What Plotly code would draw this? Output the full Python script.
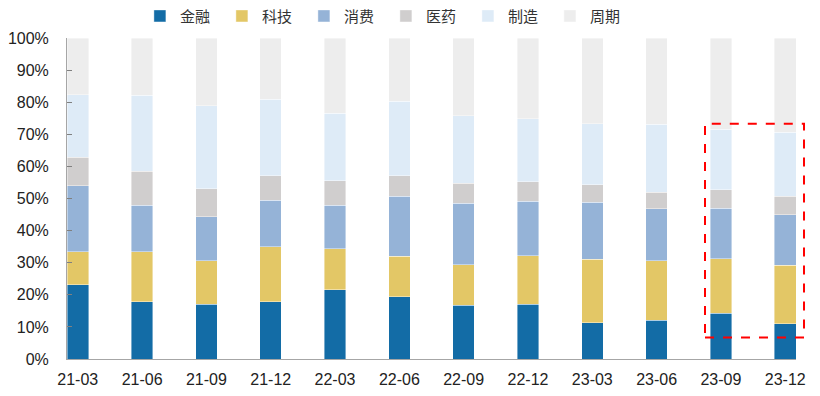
import plotly.graph_objects as go

categories = ["21-03", "21-06", "21-09", "21-12", "22-03", "22-06",
              "22-09", "22-12", "23-03", "23-06", "23-09", "23-12"]
finance = [23.1, 17.9, 17.0, 17.8, 21.5, 19.4, 16.8, 17.0, 11.3, 12.0, 14.2, 11.0]
tech = [10.3, 15.5, 13.6, 17.2, 12.9, 12.6, 12.6, 15.1, 19.8, 18.6, 17.1, 18.2]
consumer = [20.6, 14.5, 13.7, 14.4, 13.5, 18.7, 19.1, 17.1, 17.7, 16.2, 15.7, 15.7]
pharma = [8.8, 10.6, 8.8, 7.7, 7.6, 6.4, 6.2, 6.0, 5.5, 5.1, 5.8, 5.8]
manufacturing = [19.5, 23.6, 25.8, 23.8, 21.1, 23.2, 21.1, 19.7, 19.0, 21.2, 18.7, 19.9]
cyclical = [17.7, 17.9, 21.1, 19.1, 23.4, 19.7, 24.2, 25.1, 26.7, 26.9, 28.5, 29.4]

series = [
    ("金融", finance, "#136ca6"),
    ("科技", tech, "#e3c766"),
    ("消费", consumer, "#95b3d7"),
    ("医药", pharma, "#d0cece"),
    ("制造", manufacturing, "#deebf7"),
    ("周期", cyclical, "#ededed"),
]

fig = go.Figure()
for name, vals, color in series:
    fig.add_trace(go.Bar(
        x=categories, y=vals, name=name,
        marker=dict(color=color, line=dict(width=0.6, color="rgba(255,255,255,0.7)")),
    ))

fig.update_layout(
    barmode="stack",
    bargap=0.665,
    width=820, height=396,
    margin=dict(l=67, r=24, t=38, b=37, autoexpand=False),
    plot_bgcolor="white", paper_bgcolor="white",
    font=dict(family="Liberation Sans, Arial", size=16, color="#222"),
    hovermode=False,
    legend=dict(
        orientation="h", x=0.1, xanchor="left", y=1.068, yanchor="middle",
        entrywidth=37, entrywidthmode="pixels",
        font=dict(family="Noto Sans CJK SC", size=15, color="#333"),
        traceorder="normal", itemclick=False,
    ),
    showlegend=True,
)
fig.update_xaxes(
    type="category", range=[-0.1675, 11.1675],
    showline=True, linecolor="#a6a6a6", linewidth=1,
    ticks="", showgrid=False, ticklabelstandoff=6,
)
fig.update_yaxes(
    range=[0, 100], dtick=10, ticksuffix="%",
    showline=True, linecolor="#a6a6a6", linewidth=1,
    ticks="inside", ticklen=5, tickcolor="#808080",
    showgrid=False, zeroline=False, ticklabelstandoff=14,
)

# highlight box around the last two periods
fig.add_shape(
    type="rect", xref="paper", yref="y",
    x0=(705 - 67) / 729, x1=(804 - 67) / 729, y0=6.7, y1=73.3,
    line=dict(color="#ff0000", width=2, dash="dash"),
)

# remove the default 8px page margin so the figure fills the window exactly
fig.write_html(
    "out.html",
    config={"displayModeBar": False},
    post_script="document.body.style.margin='0';",
)
